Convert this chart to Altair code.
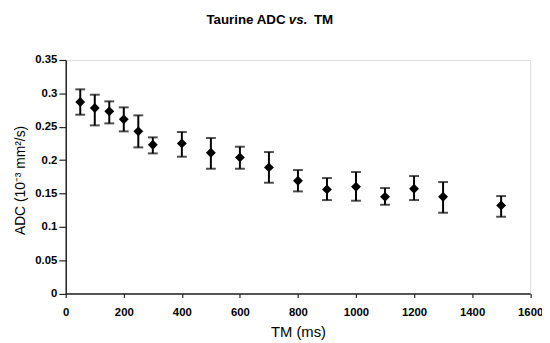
import altair as alt
import pandas as pd

tm = [50, 100, 150, 200, 250, 300, 400, 500, 600, 700, 800, 900, 1000, 1100, 1200, 1300, 1500]
adc = [0.287, 0.278, 0.273, 0.261, 0.243, 0.223, 0.225, 0.211, 0.204, 0.189, 0.169, 0.156, 0.160, 0.145, 0.157, 0.145, 0.132]
adc_hi = [0.306, 0.298, 0.288, 0.279, 0.267, 0.234, 0.242, 0.233, 0.220, 0.212, 0.185, 0.173, 0.182, 0.158, 0.176, 0.167, 0.146]
adc_lo = [0.268, 0.252, 0.255, 0.243, 0.219, 0.210, 0.205, 0.187, 0.187, 0.166, 0.153, 0.140, 0.139, 0.133, 0.140, 0.121, 0.115]

x_ticks = [0, 200, 400, 600, 800, 1000, 1200, 1400, 1600]
y_ticks = [0, 0.05, 0.1, 0.15, 0.2, 0.25, 0.3, 0.35]

title_parts = ["Taurine ADC", "vs.", "TM"]

df = pd.DataFrame({"tm": tm, "adc": adc, "hi": adc_hi, "lo": adc_lo})

FONT = "Liberation Sans"
W, H = 470.5, 236.5

xscale = alt.Scale(domain=[0, 1600], nice=False, zero=True)
yscale = alt.Scale(domain=[0, 0.35], nice=False, zero=True)

xaxis = alt.Axis(values=x_ticks, grid=False, title="TM (ms)", format="d", labelFont=FONT,
                 labelFontWeight="bold", labelFontSize=11.5, labelColor="black",
                 labelPadding=9, tickSize=4, tickColor="#222", domainColor="#222",
                 domainWidth=1.5, tickWidth=1.2, titleFont=FONT, titleFontWeight="normal",
                 titleFontSize=15, titleColor="black", titleY=38.5, titleBaseline="middle",
                 labelFlush=False, labelOverlap=False)
yaxis = alt.Axis(values=y_ticks, grid=False, title="ADC (10\u207b\u00b3 mm\u00b2/s)",
                 format="~g", labelFont=FONT, labelFontWeight="bold", labelFontSize=11.5,
                 labelColor="black", labelPadding=2, tickSize=7, tickColor="#222",
                 domainColor="#222", domainWidth=1.5, tickWidth=1.2, titleFont=FONT,
                 titleFontWeight="normal", titleFontSize=14, titleColor="black",
                 titleX=-46, titleY=121.5, titleAngle=-90, titleBaseline="middle",
                 titleAlign="center", labelFlush=False, labelOverlap=False)

X = lambda f: alt.X(f, scale=xscale, axis=xaxis)
Y = lambda f: alt.Y(f, scale=yscale, axis=yaxis)

base = alt.Chart(df)

bars = base.mark_rule(color="black", strokeWidth=2).encode(
    x=X("tm:Q"), y=Y("lo:Q"), y2="hi:Q")
cap_hi = base.mark_tick(color="black", orient="horizontal", size=10, thickness=2).encode(
    x=X("tm:Q"), y=Y("hi:Q"))
cap_lo = base.mark_tick(color="black", orient="horizontal", size=10, thickness=2).encode(
    x=X("tm:Q"), y=Y("lo:Q"))
points = base.mark_point(shape="diamond", filled=True, color="black", size=100, opacity=1).encode(
    x=X("tm:Q"), y=Y("adc:Q"))

tdf = pd.DataFrame({"t": [0]})
TY = -40.5
TFS = 13.5
t1 = alt.Chart(tdf).mark_text(text=title_parts[0], font=FONT, fontWeight="bold", fontSize=TFS,
                              align="left", baseline="middle", color="black").encode(
    x=alt.value(142.5), y=alt.value(TY))
t2 = alt.Chart(tdf).mark_text(text=title_parts[1], font=FONT, fontWeight="bold", fontStyle="italic",
                              fontSize=TFS, align="left", baseline="middle", color="black").encode(
    x=alt.value(226), y=alt.value(TY))
t3 = alt.Chart(tdf).mark_text(text=title_parts[2], font=FONT, fontWeight="bold", fontSize=TFS,
                              align="left", baseline="middle", color="black").encode(
    x=alt.value(251.5), y=alt.value(TY))

chart = alt.layer(bars, cap_hi, cap_lo, points, t1, t2, t3).properties(
    width=W, height=H,
    autosize=alt.AutoSizeParams(type="none"),
    padding={"left": 58.5, "top": 50.5, "right": 12, "bottom": 47},
).configure_view(stroke=None).configure(background="white")

chart.save("out.html", embed_options={"renderer": "svg", "actions": False})
